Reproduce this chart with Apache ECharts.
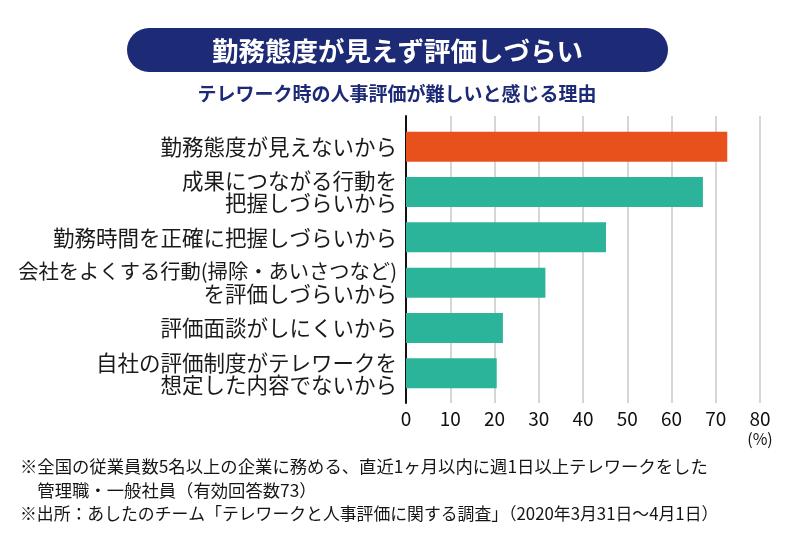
<!DOCTYPE html>
<html><head><meta charset="utf-8">
<script src="https://cdn.jsdelivr.net/npm/echarts@6/dist/echarts.min.js"></script>
<style>html,body{margin:0;padding:0;background:#fff}#c{width:800px;height:543px}</style>
</head><body><div id="c"></div>
<script>
const categories = [
  '勤務態度が見えないから',
  '成果につながる行動を\n把握しづらいから',
  '勤務時間を正確に把握しづらいから',
  '会社をよくする行動(掃除・あいさつなど)\nを評価しづらいから',
  '評価面談がしにくいから',
  '自社の評価制度がテレワークを\n想定した内容でないから'
];
const values = [72.6, 67.1, 45.2, 31.5, 21.9, 20.5];
const highlightIndex = 0;
const xTicks = [0, 10, 20, 30, 40, 50, 60, 70, 80];
const titleText = '勤務態度が見えず評価しづらい';
const subtitleText = 'テレワーク時の人事評価が難しいと感じる理由';
const noteLines = [
  '※全国の従業員数5名以上の企業に務める、直近1ヶ月以内に週1日以上テレワークをした',
  '　管理職・一般社員（有効回答数73）',
  '※出所：あしたのチーム「テレワークと人事評価に関する調査」（2020年3月31日～4月1日）'
];

const FONT = '"Noto Sans CJK JP", "Noto Sans", sans-serif';
const NAVY = '#1d2a76';
const ORANGE = '#e8501c';
const TEAL = '#2bb49a';

const chart = echarts.init(document.getElementById('c'), null, {renderer: 'canvas'});

const noteScale = [1.02, 1.02, 0.99];
const noteGraphics = noteLines.map((t, i) => ({
  type: 'text', x: 20, y: 467 + i * 23.5, scaleX: noteScale[i],
  style: {text: t, font: '17px ' + FONT, fill: '#151515', textVerticalAlign: 'middle'}
}));

chart.setOption({
  backgroundColor: '#fff',
  animation: false,
  textStyle: {fontFamily: FONT},
  graphic: [
    {type: 'rect', shape: {x: 127, y: 28, width: 541, height: 44, r: 22}, style: {fill: NAVY}},
    {type: 'text', x: 397.5, y: 50.5, style: {text: titleText, font: 'bold 26.5px ' + FONT, fill: '#fff', textAlign: 'center', textVerticalAlign: 'middle'}},
    {type: 'text', x: 397, y: 93.5, style: {text: subtitleText, font: 'bold 19px ' + FONT, fill: NAVY, textAlign: 'center', textVerticalAlign: 'middle'}}
  ].concat(noteGraphics),
  grid: [
    {left: 406, right: 40, top: 124, bottom: 147, outerBoundsMode: 'none', containLabel: false},
    {left: 406, right: 40, top: 116, bottom: 140, outerBoundsMode: 'none', containLabel: false}
  ],
  xAxis: [
    {gridIndex: 0, type: 'value', min: 0, max: 80, interval: 10, show: false},
    {gridIndex: 1, type: 'value', min: 0, max: 80, interval: 10,
      axisLine: {show: false}, axisTick: {show: false},
      splitLine: {show: true, lineStyle: {color: '#c9c9c9', width: 1.5}},
      axisLabel: {
        margin: 6, color: '#111', fontSize: 19, fontFamily: FONT,
        formatter: v => v === 80 ? '{a|80}\n{b|(%)}' : '{a|' + v + '}',
        rich: {a: {fontSize: 19, lineHeight: 20, color: '#111', fontFamily: FONT},
               b: {fontSize: 16, lineHeight: 19, color: '#111', fontFamily: FONT}}
      }
    }
  ],
  yAxis: [
    {gridIndex: 0, type: 'category', data: categories, inverse: true,
      axisLine: {show: false}, axisTick: {show: false}, splitLine: {show: false},
      axisLabel: {margin: 9, color: '#1a1a1a', fontSize: 21.5, lineHeight: 22, fontFamily: FONT,
        formatter: v => v.split('\n').map(l => (l.indexOf('(') >= 0 ? '{s|' : '{n|') + l + '}').join('\n'),
        rich: {
          n: {fontSize: 21.5, lineHeight: 22, color: '#1a1a1a', fontFamily: FONT},
          s: {fontSize: 20.3, lineHeight: 22, color: '#1a1a1a', fontFamily: FONT}
        }
      }
    },
    {gridIndex: 1, type: 'value', min: 0, max: 1, axisLabel: {show: false}, axisTick: {show: false},
      splitLine: {show: false}, axisLine: {show: true, lineStyle: {color: '#111', width: 2}}}
  ],
  series: [{
    type: 'bar', xAxisIndex: 0, yAxisIndex: 0, barWidth: 30, z: 3,
    data: values.map((v, i) => ({value: v, itemStyle: {color: i === highlightIndex ? ORANGE : TEAL}}))
  }]
});
</script></body></html>
